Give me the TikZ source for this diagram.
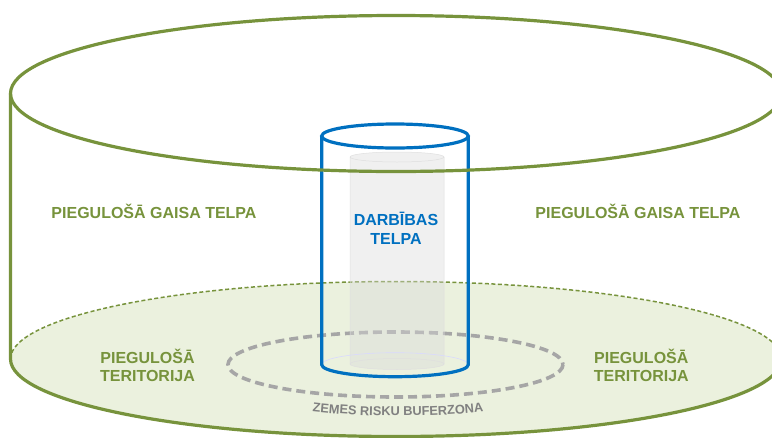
\documentclass[tikz,border=0pt]{standalone}
\usepackage{fontspec}
\setmainfont{Liberation Sans}
\usetikzlibrary{decorations.text}
\definecolor{outergreen}{HTML}{77933C}
\definecolor{groundfill}{HTML}{EBF1DE}
\definecolor{opblue}{HTML}{0070C0}
\definecolor{buffergray}{HTML}{A6A6A6}
\definecolor{buffertext}{HTML}{808080}
\definecolor{corefill}{HTML}{D9D9D9}
\begin{document}
\begin{tikzpicture}[x=1pt,y=-1pt,
  outer/.style={line width=3.2pt,draw=outergreen},
  rim/.style={line width=1.5pt,draw=outergreen,dash pattern=on 4pt off 2.5pt},
  opline/.style={line width=3.2pt,draw=opblue},
  core/.style={line width=0.5pt,draw=gray!25},
  buffer/.style={line width=3.6pt,draw=buffergray,dash pattern=on 9pt off 5pt},
  zone/.style={font=\fontsize{16}{18.5}\selectfont\bfseries,text=outergreen,align=center,anchor=base}]
\useasboundingbox (0,0) rectangle (772,437);
\clip (0,0) rectangle (772,437);
% ground disc, back rim dashed
\path[fill=groundfill] (396,359) ellipse [x radius=385.5,y radius=77.5];
\path[rim] (10.5,359) arc [start angle=180,end angle=360,x radius=385.5,y radius=77.5];
% risk buffer on the ground
\path[buffer] (395.5,364.5) ellipse [x radius=167.5,y radius=32.5];
% inner grey column
\path[core,fill=corefill,fill opacity=0.4] (350,157) -- (350,364)
  arc [start angle=180,end angle=0,x radius=47,y radius=5.5] -- (444,157)
  arc [start angle=0,end angle=-180,x radius=47,y radius=5] -- cycle;
\path[core] (350,157) arc [start angle=180,end angle=0,x radius=47,y radius=5];
\path[core] (350,364) arc [start angle=180,end angle=360,x radius=47,y radius=5.5];
% operation space cylinder
\path[draw=blue!15,line width=0.6pt] (321.7,364.7)
  arc [start angle=180,end angle=360,x radius=73.3,y radius=12];
\path[opline] (321.7,136) -- (321.7,364.7)
  arc [start angle=180,end angle=0,x radius=73.3,y radius=12] -- (468.3,136);
\path[opline] (395,136) ellipse [x radius=73.3,y radius=12];
% outer air space cylinder
\path[outer] (10.5,93.5) -- (10.5,359)
  arc [start angle=180,end angle=0,x radius=385.5,y radius=77.5] -- (781.5,93.5);
\path[outer] (396,93.5) ellipse [x radius=385.5,y radius=78];
\node[zone] (airleft) at (154,218.5) {PIEGULOŠĀ GAISA TELPA};
\node[zone] (airright) at (638,218.5) {PIEGULOŠĀ GAISA TELPA};
\node[zone] (landleft) at (147.5,381.7) {PIEGULOŠĀ\\TERITORIJA};
\node[zone] (landright) at (641.3,381.7) {PIEGULOŠĀ\\TERITORIJA};
\node[zone,text=opblue] (opspace) at (396,244) {DARBĪBAS\\TELPA};
\path[decorate,decoration={text along path,text align=center,text color=buffertext,
  text={|\fontsize{12.8}{14}\selectfont\bfseries|ZEMES RISKU BUFERZONA}}]
  (298.6,409.7) arc [start angle=119,end angle=61,x radius=205,y radius=50];
\end{tikzpicture}
\end{document}
